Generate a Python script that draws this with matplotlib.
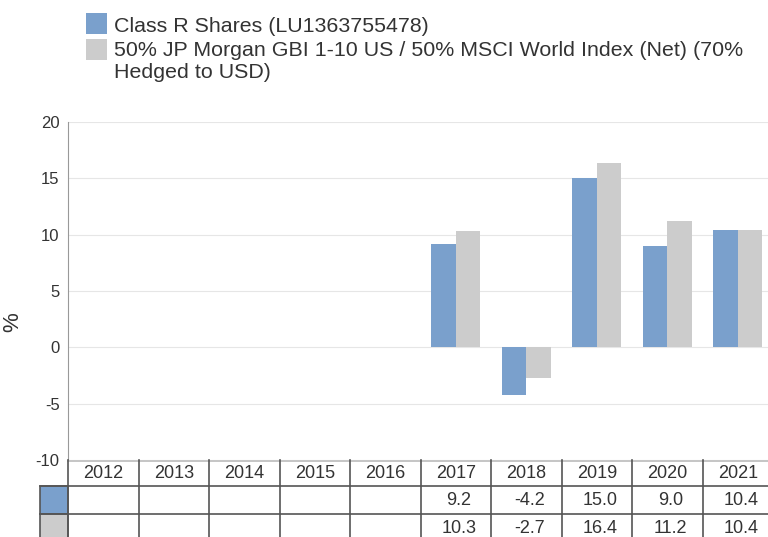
import matplotlib
matplotlib.use("Agg")
import matplotlib.pyplot as plt
from matplotlib.patches import Rectangle
import numpy as np

years = ["2012", "2013", "2014", "2015", "2016", "2017", "2018", "2019", "2020", "2021"]
fund = [None, None, None, None, None, 9.2, -4.2, 15.0, 9.0, 10.4]
bench = [None, None, None, None, None, 10.3, -2.7, 16.4, 11.2, 10.4]
fund_name = "Class R Shares (LU1363755478)"
bench_lines = ["50% JP Morgan GBI 1-10 US / 50% MSCI World Index (Net) (70%", "Hedged to USD)"]
yticks = [-10, -5, 0, 5, 10, 15, 20]

BLUE = "#7aa0cc"
GREY = "#cccccc"
TXT = "#333333"
LINE = "#555555"

plt.rcParams['font.family'] = ['Liberation Sans', 'DejaVu Sans']

W, H = 768, 537
fig = plt.figure(figsize=(W / 100, H / 100), dpi=100)

def fx(px):
    return px / W

def fy(py):
    return 1 - py / H

# main axes: x 68..773, y 122..460
ax = fig.add_axes([fx(68), fy(460), fx(773 - 68), (460 - 122) / H])
n = len(years)
bw = 0.35
fx_idx = [i for i, v in enumerate(fund) if v is not None]
bx_idx = [i for i, v in enumerate(bench) if v is not None]
ax.bar([i - bw / 2 for i in fx_idx], [fund[i] for i in fx_idx], width=bw, color=BLUE, zorder=3)
ax.bar([i + bw / 2 for i in bx_idx], [bench[i] for i in bx_idx], width=bw, color=GREY, zorder=3)
ax.set_xlim(-0.5, n - 0.5)
ax.set_ylim(-10, 20)
ax.set_yticks(yticks)
ax.set_yticklabels([str(t) for t in yticks], fontsize=12, color=TXT)
ax.tick_params(axis='y', length=0, pad=6)
ax.set_xticks([])
ax.grid(axis='y', color="#e6e6e6", linewidth=0.8, zorder=0)
for s in ['top', 'right', 'bottom']:
    ax.spines[s].set_visible(False)
ax.spines['left'].set_color("#999999")
ax.spines['left'].set_linewidth(0.8)
fig.text(fx(12.5), fy(322), "%", rotation=90, ha='center', va='center', fontsize=16, color=TXT)

# table axes: x pixels 40..773, y 460..541
tleft = 40
col_w = (773 - 68) / n
tax = fig.add_axes([fx(tleft), fy(541), fx(773 - tleft), (541 - 460) / H])
x0 = -0.5 - (68 - tleft) / col_w
tax.set_xlim(x0, n - 0.5)
rows_px = [460, 486, 514, 541]
tax.set_ylim(541, 460)
tax.axis('off')
tax.plot([-0.5, n - 0.5], [460.5, 460.5], color="#bbbbbb", lw=1.2, clip_on=False)
for yy in rows_px[1:3]:
    tax.plot([x0, n - 0.5], [yy, yy], color=LINE, lw=1.2, clip_on=False)
for i in range(n + 1):
    xv = i - 0.5
    tax.plot([xv, xv], [460, 541], color=LINE, lw=1.2, clip_on=False)
tax.add_patch(Rectangle((x0, 486), -0.5 - x0, 28, facecolor=BLUE, edgecolor=LINE, lw=1.2, clip_on=False))
tax.add_patch(Rectangle((x0, 514), -0.5 - x0, 28, facecolor=GREY, edgecolor=LINE, lw=1.2, clip_on=False))
off = 3 / col_w
for i, yr in enumerate(years):
    tax.text(i, 473.5, yr, ha='center', va='center', fontsize=13, color=TXT)
    if fund[i] is not None:
        tax.text(i + off, 500.5, f"{fund[i]:.1f}", ha='center', va='center', fontsize=13, color=TXT)
    if bench[i] is not None:
        tax.text(i + off, 528, f"{bench[i]:.1f}", ha='center', va='center', fontsize=13, color=TXT)

# legend
fig.patches.append(Rectangle((fx(86), fy(34)), fx(21), (34 - 13) / H, facecolor=BLUE,
                             transform=fig.transFigure, figure=fig))
fig.patches.append(Rectangle((fx(86), fy(60)), fx(21), (60 - 39) / H, facecolor=GREY,
                             transform=fig.transFigure, figure=fig))
LFS = 15.4
fig.text(fx(114), fy(31.5), fund_name, ha='left', va='baseline', fontsize=LFS, color=TXT)
fig.text(fx(114), fy(56.5), bench_lines[0], ha='left', va='baseline', fontsize=LFS, color=TXT)
fig.text(fx(114), fy(78), bench_lines[1], ha='left', va='baseline', fontsize=LFS, color=TXT)

fig.savefig("out.png", dpi=100)
